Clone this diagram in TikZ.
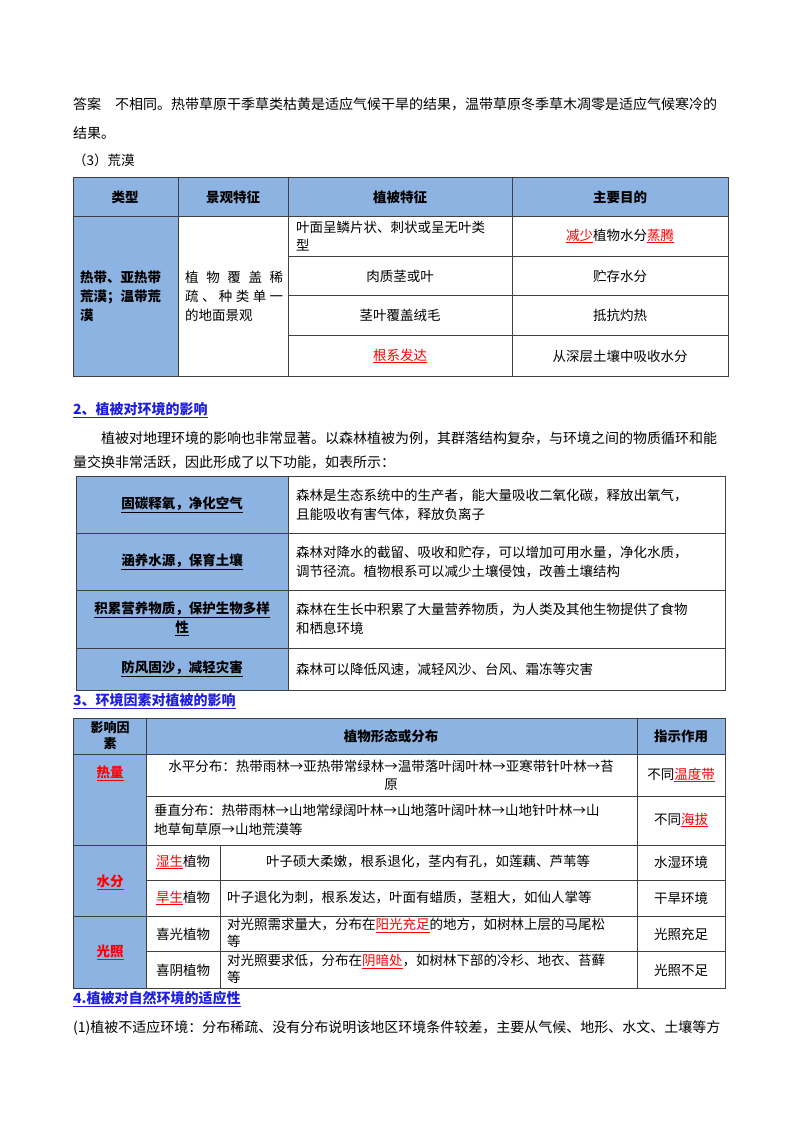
\documentclass[tikz,border=0pt]{standalone}
\usepackage{fontspec}
\setmainfont{Noto Sans CJK SC}
\newfontfamily\cjkb{Noto Sans CJK SC Bold}
\definecolor{hb}{HTML}{8DB3E2}
\definecolor{lk}{HTML}{1F1FE0}
\newcommand{\ru}[1]{{\color{red}\underline{#1}}}
\tikzset{
 tx/.style={inner sep=0pt,font=\fontsize{13.5}{21}\selectfont},
 lt/.style={tx,anchor=west,align=left},
 ct/.style={tx,align=center},
 bd/.style={ct,font=\fontsize{13.5}{20}\selectfont\bfseries},
 hd/.style={lt,text=lk,font=\fontsize{14}{20}\selectfont\bfseries},
 gl/.style={draw=black!75,line width=0.8pt}
}
\begin{document}
\begin{tikzpicture}[x=1pt,y=-1pt]
\useasboundingbox[fill=white] (0,0) rectangle (800,1132);
% intro
\node[lt,font=\fontsize{14}{20}\selectfont] (t1) at (73,104) {答案\quad 不相同。热带草原干季草类枯黄是适应气候干旱的结果，温带草原冬季草木凋零是适应气候寒冷的};
\node[lt,font=\fontsize{14}{20}\selectfont] (t2) at (73,133) {结果。};
\node[lt] (t3) at (73,160) {（3）荒漠};
% table 1
\fill[hb] (73,177) rectangle (728,216);
\fill[hb] (73,216) rectangle (178,376);
\draw[gl] (73,177) rectangle (728,376);
\foreach \x in {178,288,512} \draw[gl] (\x,177) -- (\x,376);
\draw[gl] (73,216) -- (728,216);
\foreach \y in {256,295,335} \draw[gl] (288,\y) -- (728,\y);
\node[bd] (a1) at (125,197) {类型};
\node[bd] (a2) at (233,197) {景观特征};
\node[bd] (a3) at (400,197) {植被特征};
\node[bd] (a4) at (620,197) {主要目的};
\node[lt,font=\fontsize{13.5}{19}\selectfont\bfseries] (b1) at (80,296) {热带、亚热带\\荒漠；温带荒\\漠};
\node[lt,font=\fontsize{13.5}{19}\selectfont] (b2) at (185,296) {\hbox to 98pt{植\hfil 物\hfil 覆\hfil 盖\hfil 稀}\\\hbox to 98pt{疏\hfil 、\hfil 种\hfil 类\hfil 单\hfil 一}\\的地面景观};
\node[lt,font=\fontsize{13.5}{18}\selectfont] (c1) at (296,236) {叶面呈鳞片状、刺状或呈无叶类\\型};
\node[ct] (c2) at (400,276) {肉质茎或叶};
\node[ct] (c3) at (400,315) {茎叶覆盖绒毛};
\node[ct] (c4) at (400,356) {\ru{根系发达}};
\node[ct] (d1) at (620,236) {\ru{减少}植物水分\ru{蒸腾}};
\node[ct] (d2) at (620,276) {贮存水分};
\node[ct] (d3) at (620,315) {抵抗灼热};
\node[ct] (d4) at (620,356) {从深层土壤中吸收水分};
% section 2
\node[hd] (h2) at (73,410) {\underline{2、植被对环境的影响}};
\node[lt,font=\fontsize{14}{20}\selectfont] (p1) at (101,438) {植被对地理环境的影响也非常显著。以森林植被为例，其群落结构复杂，与环境之间的物质循环和能};
\node[lt,font=\fontsize{14}{20}\selectfont] (p2) at (73,462) {量交换非常活跃，因此形成了以下功能，如表所示：};
% table 2
\fill[hb] (76,476) rectangle (288,690);
\draw[gl] (76,476) rectangle (725,690);
\draw[gl] (288,476) -- (288,690);
\foreach \y in {533,590,648} \draw[gl] (76,\y) -- (725,\y);
\node[bd] (e1) at (182,505) {\underline{固碳释氧，净化空气}};
\node[bd] (e2) at (182,562) {\underline{涵养水源，保育土壤}};
\node[bd,font=\fontsize{13.5}{19}\selectfont\bfseries] (e3) at (182,619) {\underline{积累营养物质，保护生物多样}\\\underline{性}};
\node[bd] (e4) at (182,669) {\underline{防风固沙，减轻灾害}};
\node[lt,font=\fontsize{13.5}{19}\selectfont] (f1) at (296,505) {森林是生态系统中的生产者，能大量吸收二氧化碳，释放出氧气，\\且能吸收有害气体，释放负离子};
\node[lt,font=\fontsize{13.5}{19}\selectfont] (f2) at (296,562) {森林对降水的截留、吸收和贮存，可以增加可用水量，净化水质，\\调节径流。植物根系可以减少土壤侵蚀，改善土壤结构};
\node[lt,font=\fontsize{13.5}{19}\selectfont] (f3) at (296,619) {森林在生长中积累了大量营养物质，为人类及其他生物提供了食物\\和栖息环境};
\node[lt] (f4) at (296,669) {森林可以降低风速，减轻风沙、台风、霜冻等灾害};
\node[hd] (h3) at (73,701) {\underline{3、环境因素对植被的影响}};
% table 3
\fill[hb] (73,718) rectangle (725,754);
\fill[hb] (73,754) rectangle (146,988);
\draw[gl] (73,718) rectangle (725,988);
\foreach \x in {146,637} \draw[gl] (\x,718) -- (\x,988);
\draw[gl] (220,845) -- (220,988);
\foreach \y in {754,845,916} \draw[gl] (73,\y) -- (725,\y);
\foreach \y in {796,880,951} \draw[gl] (146,\y) -- (725,\y);
\node[bd,font=\fontsize{13}{16}\selectfont\bfseries] (g1) at (110,736) {影响因\\素};
\node[bd] (g2) at (391,736) {植物形态或分布};
\node[bd] (g3) at (681,736) {指示作用};
\node[bd,text=red] (k1) at (110,773) {\underline{热量}};
\node[bd,text=red] (k2) at (110,882) {\underline{水分}};
\node[bd,text=red] (k3) at (110,952) {\underline{光照}};
\node[ct,font=\fontsize{13.5}{18}\selectfont] (m1) at (391,775) {水平分布：热带雨林→亚热带常绿林→温带落叶阔叶林→亚寒带针叶林→苔\\原};
\node[lt,font=\fontsize{13.5}{19}\selectfont] (m2) at (154,820) {垂直分布：热带雨林→山地常绿阔叶林→山地落叶阔叶林→山地针叶林→山\\地草甸草原→山地荒漠等};
\node[ct] (n1) at (183,862) {\ru{湿生}植物};
\node[ct] (n2) at (183,898) {\ru{旱生}植物};
\node[ct] (n3) at (183,934) {喜光植物};
\node[ct] (n4) at (183,970) {喜阴植物};
\node[ct] (q1) at (428,862) {叶子硕大柔嫩，根系退化，茎内有孔，如莲藕、芦苇等};
\node[lt] (q2) at (227,898) {叶子退化为刺，根系发达，叶面有蜡质，茎粗大，如仙人掌等};
\node[lt,font=\fontsize{13.5}{17}\selectfont] (q3) at (227,933) {对光照需求量大，分布在\ru{阳光充足}的地方，如树林上层的马尾松\\等};
\node[lt,font=\fontsize{13.5}{17}\selectfont] (q4) at (227,969) {对光照要求低，分布在\ru{阴暗处}，如树林下部的冷杉、地衣、苔藓\\等};
\node[ct] (r1) at (681,775) {不同\ru{温度带}};
\node[ct] (r2) at (681,820) {不同\ru{海拔}};
\node[ct] (r3) at (681,862) {水湿环境};
\node[ct] (r4) at (681,898) {干旱环境};
\node[ct] (r5) at (681,934) {光照充足};
\node[ct] (r6) at (681,970) {光照不足};
\node[hd] (h4) at (73,999) {\underline{4.植被对自然环境的适应性}};
\node[lt,font=\fontsize{14}{20}\selectfont] (z1) at (73,1028) {(1)植被不适应环境：分布稀疏、没有分布说明该地区环境条件较差，主要从气候、地形、水文、土壤等方};
\end{tikzpicture}
\end{document}
